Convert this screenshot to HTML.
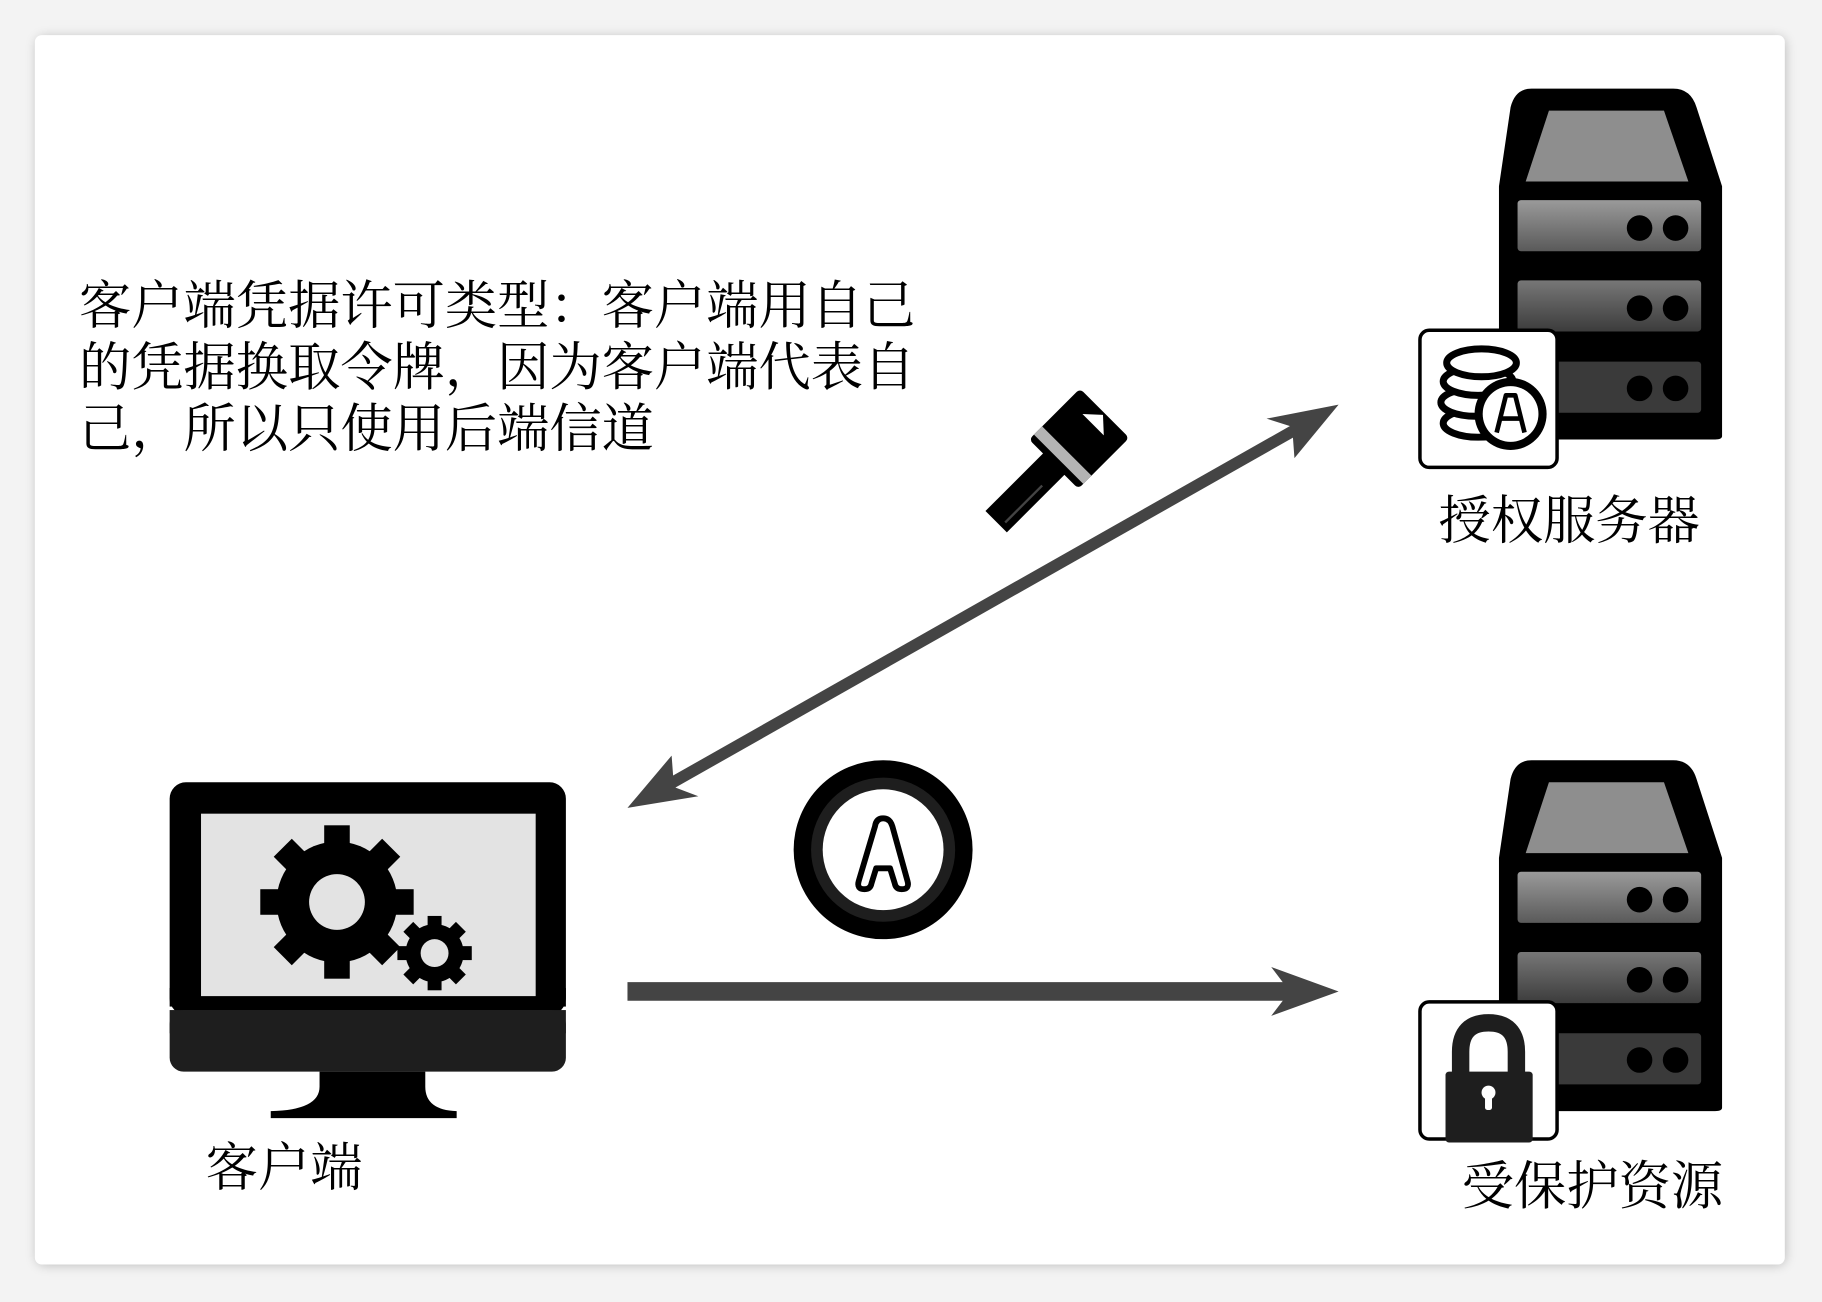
<!DOCTYPE html>
<html><head><meta charset="utf-8"><style>
html,body{margin:0;padding:0;background:#f3f3f3;}
svg{display:block;}
text{font-family:"Liberation Serif","Noto Serif CJK SC",serif;fill:#000;}
</style></head><body>
<svg width="1822" height="1302" viewBox="0 0 1568 1120" xmlns="http://www.w3.org/2000/svg">
<defs>
<filter id="sh" x="-5%" y="-5%" width="110%" height="110%"><feGaussianBlur stdDeviation="5"/></filter>
<linearGradient id="dr" x1="0" y1="0" x2="0" y2="1"><stop offset="0" stop-color="#9a9a9a"/><stop offset="1" stop-color="#5a5a5a"/></linearGradient>
<linearGradient id="dr2" x1="0" y1="0" x2="0" y2="1"><stop offset="0" stop-color="#777"/><stop offset="1" stop-color="#3c3c3c"/></linearGradient>
<g id="server">
  <path d="M1318,76 H1440 Q1455,76 1460,92 L1482,160 V375 Q1482,378 1476,378 H1296 Q1290,378 1290,372 V160 L1300,92 Q1304,76 1318,76 Z" fill="#000"/>
  <path d="M1333,95 H1432 L1453,156 H1313 Z" fill="#8e8e8e"/>
  <rect x="1306" y="172" width="158" height="44" rx="3" fill="url(#dr)"/>
  <rect x="1306" y="241" width="158" height="44" rx="3" fill="url(#dr2)"/>
  <rect x="1306" y="311" width="158" height="44" rx="3" fill="#3a3a3a"/>
  <g fill="#000">
   <circle cx="1411" cy="196" r="11"/><circle cx="1442" cy="196" r="11"/>
   <circle cx="1411" cy="265" r="11"/><circle cx="1442" cy="265" r="11"/>
   <circle cx="1411" cy="334" r="11"/><circle cx="1442" cy="334" r="11"/>
  </g>
  <rect x="1222" y="284" width="118" height="118" rx="8" fill="#fff" stroke="#000" stroke-width="3"/>
</g>
</defs>
<rect x="32" y="32" width="1504" height="1056" rx="6" fill="#000" opacity="0.25" filter="url(#sh)"/>
<rect x="30" y="30" width="1506" height="1058" rx="6" fill="#fff"/>

<text font-size="45" x="68" y="278">客户端凭据许可类型：客户端用自己</text>
<text font-size="45" x="68" y="331">的凭据换取令牌，因为客户端代表自</text>
<text font-size="45" x="68" y="384">己，所以只使用后端信道</text>

<use href="#server"/>
<use href="#server" y="578"/>
<g stroke="#000" stroke-width="6" fill="#fff">
 <ellipse cx="1272" cy="364" rx="30" ry="12"/>
 <ellipse cx="1270" cy="346" rx="30" ry="12"/>
 <ellipse cx="1272" cy="328" rx="30" ry="12"/>
 <ellipse cx="1275" cy="312" rx="30" ry="12"/>
</g>
<circle cx="1300" cy="356" r="31" fill="#000"/>
<circle cx="1300" cy="356" r="24" fill="#fff"/>
<path d="M1288,372 L1296,340 H1304 L1312,372 M1292,360 H1308" stroke="#000" stroke-width="4" fill="none" stroke-linejoin="round"/>
<path d="M1257,928 V905 Q1257,880 1281,880 Q1305,880 1305,905 V928" stroke="#1e1e1e" stroke-width="15" fill="none"/>
<rect x="1244" y="922" width="75" height="61" rx="3" fill="#1e1e1e"/>
<circle cx="1281" cy="940" r="6" fill="#fff"/>
<rect x="1278" y="940" width="6" height="15" rx="2" fill="#fff"/>

<text font-size="45" x="1238" y="463">授权服务器</text>
<text font-size="45" x="1258" y="1036">受保护资源</text>

<rect x="146" y="673" width="341" height="200" rx="14" fill="#000"/>
<rect x="146" y="850" width="341" height="16" fill="#000"/>
<rect x="146" y="869" width="341" height="53" rx="12" fill="#1e1e1e"/>
<rect x="146" y="869" width="341" height="20" fill="#1e1e1e"/>
<rect x="173" y="700" width="288" height="157" fill="#e3e3e3"/>
<path d="M322,922 H413 V935 Q413,955 440,956 V962 H280 V956 Q322,955 322,935 Z" fill="#000" transform="translate(-47,0)"/>
<g transform="translate(290,776)" fill="#000">
 <circle r="52"/>
 <g id="t8"><rect x="-11" y="-66" width="22" height="24"/></g>
 <use href="#t8" transform="rotate(45)"/><use href="#t8" transform="rotate(90)"/><use href="#t8" transform="rotate(135)"/>
 <use href="#t8" transform="rotate(180)"/><use href="#t8" transform="rotate(225)"/><use href="#t8" transform="rotate(270)"/><use href="#t8" transform="rotate(315)"/>
 <circle r="24" fill="#e3e3e3"/>
</g>
<g transform="translate(374,820)" fill="#000">
 <circle r="25"/>
 <g id="s8"><rect x="-6" y="-32" width="12" height="12"/></g>
 <use href="#s8" transform="rotate(45)"/><use href="#s8" transform="rotate(90)"/><use href="#s8" transform="rotate(135)"/>
 <use href="#s8" transform="rotate(180)"/><use href="#s8" transform="rotate(225)"/><use href="#s8" transform="rotate(270)"/><use href="#s8" transform="rotate(315)"/>
 <circle r="12" fill="#e3e3e3"/>
</g>
<text font-size="45" x="177" y="1020">客户端</text>

<line x1="565" y1="681" x2="1128" y2="362" stroke="#444" stroke-width="10"/>
<path d="M1152,348 L1090,360 L1112,367 L1114,394 Z" fill="#444"/>
<path d="M540,695 L601,685 L580,677 L578,650 Z" fill="#444"/>
<line x1="540" y1="853" x2="1120" y2="853" stroke="#444" stroke-width="16"/>
<path d="M1152,853 L1094,832 L1110,853 L1094,874 Z" fill="#444"/>

<circle cx="760" cy="731" r="77" fill="#000"/>
<circle cx="760" cy="731" r="62" fill="#1e1e1e"/>
<circle cx="760" cy="731" r="52" fill="#fff"/>
<path d="M739,758 L753,711 Q754,704 760,704 Q766,704 768,711 L781,758 Q783,765 776,765 Q771,765 770,760 L766,747 H754 L750,760 Q749,765 744,765 Q737,765 739,758 Z" fill="#fff" stroke="#000" stroke-width="5" stroke-linejoin="round"/>

<g transform="translate(928,378) rotate(-45)">
 <rect x="-30" y="-30" width="62" height="60" rx="4" fill="#000"/>
 <rect x="-24" y="-30" width="10" height="60" fill="#b4b4b4"/>
 <path d="M18,-13 L30,0 L18,13 Z" fill="#fff"/>
 <rect x="-100" y="-13" width="72" height="26" fill="#000"/>
 <path d="M-95,6 H-50" stroke="#444" stroke-width="2"/>
</g>
</svg>
</body></html>
